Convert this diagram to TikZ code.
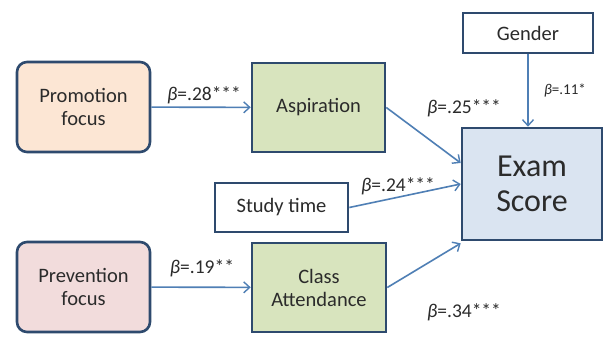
\documentclass[tikz,border=0pt]{standalone}
\usepackage{fontspec}
\setmainfont{Carlito}
\usetikzlibrary{arrows.meta}
\definecolor{bordc}{HTML}{2E4A6E}
\definecolor{arrc}{HTML}{4F7FB5}
\definecolor{txtc}{HTML}{2B2B2B}
\definecolor{peach}{HTML}{FCE6D4}
\definecolor{pinkc}{HTML}{F2DCDC}
\definecolor{greenc}{HTML}{D8E4BE}
\definecolor{bluec}{HTML}{DAE4F1}
\tikzset{
  box/.style={draw=bordc, line width=2.6pt, text=txtc, align=center, font=\fontsize{20.5}{23}\selectfont, inner sep=0pt},
  rbox/.style={box, rounded corners=10pt},
  conn/.style={draw=arrc, line width=1.6pt, -{Straight Barb[length=6pt,width=11pt,line width=1.4pt]}},
  lab/.style={text=txtc, font=\fontsize{19.5}{22}\selectfont, inner sep=0pt},
}
\newcommand{\bet}{{\itshape β}}
\begin{document}
\begin{tikzpicture}[x=1pt,y=-1pt]
\useasboundingbox[fill=white] (0,0) rectangle (605,355);
\node[rbox, fill=peach, minimum width=133pt, minimum height=90pt] (prom) at (83.5,107) {Promotion\\focus};
\node[rbox, fill=pinkc, minimum width=133pt, minimum height=90pt] (prev) at (83.5,287) {Prevention\\focus};
\node[box, fill=greenc, minimum width=133pt, minimum height=89pt] (asp) at (318.5,107.5) {Aspiration};
\node[box, fill=greenc, minimum width=134pt, minimum height=89pt] (cls) at (319,287.5) {Class\\Attendance};
\node[box, fill=white, minimum width=133pt, minimum height=49pt] (study) at (281.5,207.5) {Study time};
\node[box, fill=white, minimum width=130pt, minimum height=40pt] (gender) at (528,33) {Gender};
\node[box, fill=bluec, minimum width=140pt, minimum height=112pt, font=\fontsize{32}{35}\selectfont] (exam) at (532,184) {Exam\\Score};

\draw[conn] (prom) -- (asp);
\draw[conn] (prev) -- (cls);
\draw[conn] (asp.east) -- ([yshift=21pt]exam.west);
\draw[conn] (study.east) -- (exam.west);
\draw[conn] (cls.east) -- ([yshift=-2pt]exam.south west);
\draw[conn] (gender.south) -- (gender.south |- exam.north);

\node[lab] (l28) at (204,95) {\bet=.28***};
\node[lab] (l19) at (202,268) {\bet=.19**};
\node[lab] (l25) at (464,108) {\bet=.25***};
\node[lab] (l24) at (398,186) {\bet=.24***};
\node[lab] (l34) at (464,312) {\bet=.34***};
\node[lab, font=\fontsize{15}{17}\selectfont] (l11) at (565,90) {\bet=.11*};
\end{tikzpicture}
\end{document}
